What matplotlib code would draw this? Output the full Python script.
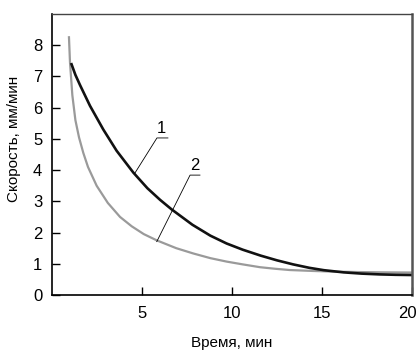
import matplotlib.pyplot as plt
import matplotlib.transforms as mtransforms

# values
t1 = [1.06, 1.3, 1.56, 2.11, 2.85, 3.59, 4.52, 5.3, 6.0, 6.65, 7.8, 8.8, 9.7, 10.6,
      11.6, 12.5, 13.4, 14.3, 15.1, 16.2, 17.2, 18.2, 19.1, 20.0]
v1 = [7.43, 7.05, 6.72, 6.06, 5.30, 4.62, 3.92, 3.42, 3.05, 2.74, 2.25, 1.90, 1.65, 1.45,
      1.26, 1.11, 0.98, 0.87, 0.795, 0.725, 0.685, 0.66, 0.647, 0.64]
t2 = [0.94, 1.0, 1.13, 1.3, 1.5, 1.74, 2.0, 2.48, 3.1, 3.78, 4.43, 5.1, 5.82, 6.9, 7.85,
      8.8, 9.7, 10.6, 11.56, 12.4, 13.2, 14.5, 15.6, 17.0, 18.5, 20.0]
v2 = [8.29, 7.45, 6.4, 5.6, 5.05, 4.55, 4.1, 3.5, 2.95, 2.5, 2.2, 1.95, 1.75, 1.5, 1.33,
      1.18, 1.07, 0.98, 0.89, 0.84, 0.80, 0.77, 0.75, 0.735, 0.725, 0.72]

plt.rcParams["font.family"] = ["Liberation Sans", "DejaVu Sans"]

fig = plt.figure(figsize=(4.17, 3.53), dpi=100)
ax = fig.add_axes([52 / 417, 58 / 353, 360 / 417, 281 / 353])

ax.plot(t2, v2, color="#9a9a9a", lw=1.6, solid_capstyle="butt")
ax.plot(t1, v1, color="#111111", lw=1.9, solid_capstyle="butt")

# callout labels
ax.plot([4.6, 5.83, 6.44], [3.9, 5.03, 5.03], color="black", lw=0.6)
ax.text(6.1, 5.1, "1", fontsize=12, ha="center", va="bottom")
ax.plot([5.82, 7.67, 8.22], [1.71, 3.84, 3.84], color="black", lw=0.6)
ax.text(7.95, 3.91, "2", fontsize=12, ha="center", va="bottom")

ax.set_xlim(0, 20)
ax.set_ylim(0, 9)
ax.set_xticks([5, 10, 15, 20])
ax.set_yticks(range(0, 9))
ax.tick_params(direction="in", length=6, width=1, labelsize=12)
ax.tick_params(axis="x", pad=8)
ax.tick_params(axis="y", pad=7)
# last x label sits against the right edge
last = ax.get_xticklabels()[-1]
last.set_horizontalalignment("right")
last.set_transform(last.get_transform() + mtransforms.ScaledTranslation(5 / 100, 0, fig.dpi_scale_trans))

for s in ["left", "bottom"]:
    ax.spines[s].set_linewidth(1.2)
    ax.spines[s].set_color("black")
ax.spines["top"].set_color("#444444")
ax.spines["top"].set_linewidth(1.0)
ax.spines["right"].set_color("#555555")
ax.spines["right"].set_linewidth(1.8)

ax.set_xlabel("Время, мин", fontsize=11)
ax.xaxis.set_label_coords(0.5, -0.145)
ax.set_ylabel("Скорость, мм/мин", fontsize=11)
ax.yaxis.set_label_coords(-0.086, 0.555)

fig.savefig("out.png", dpi=100)
